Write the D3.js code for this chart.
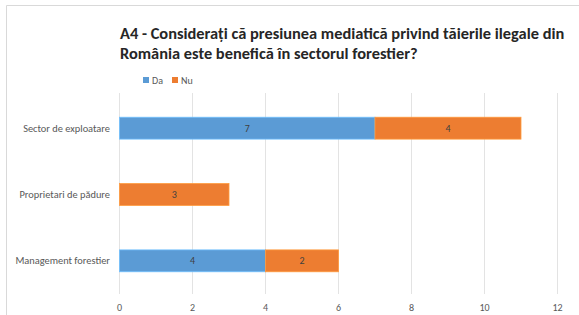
<!DOCTYPE html>
<html>
<head>
<meta charset="utf-8">
<script src="https://cdn.jsdelivr.net/npm/d3@7"></script>
<style>
  body { margin: 0; background: #fff; }
  svg { display: block; font-family: Carlito, Lato, "Liberation Sans", "DejaVu Sans", sans-serif; }
</style>
</head>
<body>
<svg id="chart" width="579" height="315"></svg>
<script>
const categories = ['Sector de exploatare', 'Proprietari de pădure', 'Management forestier'];
const seriesNames = ['Da', 'Nu'];
const da = [7, 0, 4];
const nu = [4, 3, 2];
const ticks = [0, 2, 4, 6, 8, 10, 12];
const titleLines = ['A4 - Considerați că presiunea mediatică privind tăierile ilegale din',
                    'România este benefică în sectorul forestier?'];
const colors = ['#5B9BD5', '#ED7D31'];

const svg = d3.select('#chart');
const width = 579, height = 315;

// chart frame
svg.append('path')
   .attr('d', 'M6.5,' + height + 'V5.5H' + width)
   .attr('fill', 'none')
   .attr('stroke', '#d9d9d9')
   .attr('stroke-width', 1);

let x = d3.scaleLinear().domain([0, 12]).range([119.5, 557.5]);
let y = d3.scaleBand().domain(categories).range([95, 294])
          .paddingInner(0.67).paddingOuter(0.335);

// gridlines
svg.append('g').selectAll('line')
   .data(ticks)
   .enter()
   .append('line')
   .attr('x1', d => x(d))
   .attr('x2', d => x(d))
   .attr('y1', 93)
   .attr('y2', 294)
   .attr('stroke', '#e3e3e3')
   .attr('stroke-width', 1);

// tick labels
svg.append('g').selectAll('text')
   .data(ticks)
   .enter()
   .append('text')
   .attr('x', d => x(d))
   .attr('y', 311)
   .attr('text-anchor', 'middle')
   .attr('fill', '#595959')
   .attr('font-size', '10px')
   .text(d => d);

// category labels
svg.append('g').selectAll('text')
   .data(categories)
   .enter()
   .append('text')
   .attr('x', 110)
   .attr('y', d => y(d) + y.bandwidth() / 2 + 3.5)
   .attr('text-anchor', 'end')
   .attr('fill', '#595959')
   .attr('font-size', '10.4px')
   .text(d => d);

// stacked bars
let rows = categories.map((c, i) => ({cat: c, Da: da[i], Nu: nu[i]}));
let stack = d3.stack().keys(seriesNames)(rows);
stack.forEach((layer, k) => {
  let g = svg.append('g');
  let segs = layer.filter(d => d[1] - d[0] > 0);
  g.selectAll('rect')
   .data(segs)
   .enter()
   .append('rect')
   .attr('x', d => x(d[0]))
   .attr('y', d => y(d.data.cat))
   .attr('width', d => x(d[1]) - x(d[0]))
   .attr('height', y.bandwidth())
   .attr('fill', colors[k])
   .attr('stroke', d3.color(colors[k]).brighter(0.6))
   .attr('stroke-width', 0.8);
  g.selectAll('text')
   .data(segs)
   .enter()
   .append('text')
   .attr('x', d => (x(d[0]) + x(d[1])) / 2)
   .attr('y', d => y(d.data.cat) + y.bandwidth() / 2 + 3.5)
   .attr('text-anchor', 'middle')
   .attr('fill', '#404040')
   .attr('font-size', '10px')
   .text(d => d[1] - d[0]);
});

// title
svg.append('g').selectAll('text')
   .data(titleLines)
   .enter()
   .append('text')
   .attr('x', 120)
   .attr('y', (d, i) => 39 + i * 20)
   .attr('fill', '#262626')
   .attr('font-size', '16.4px')
   .attr('font-weight', 'bold')
   .text(d => d);

// legend
let legend = svg.append('g');
seriesNames.forEach((s, i) => {
  let lx = 143 + i * 29;
  legend.append('rect')
     .attr('x', lx)
     .attr('y', 77)
     .attr('width', 6)
     .attr('height', 6)
     .attr('fill', colors[i]);
  legend.append('text')
     .attr('x', lx + 9)
     .attr('y', 83.5)
     .attr('fill', '#595959')
     .attr('font-size', '10px')
     .text(s);
});
</script>
</body>
</html>
